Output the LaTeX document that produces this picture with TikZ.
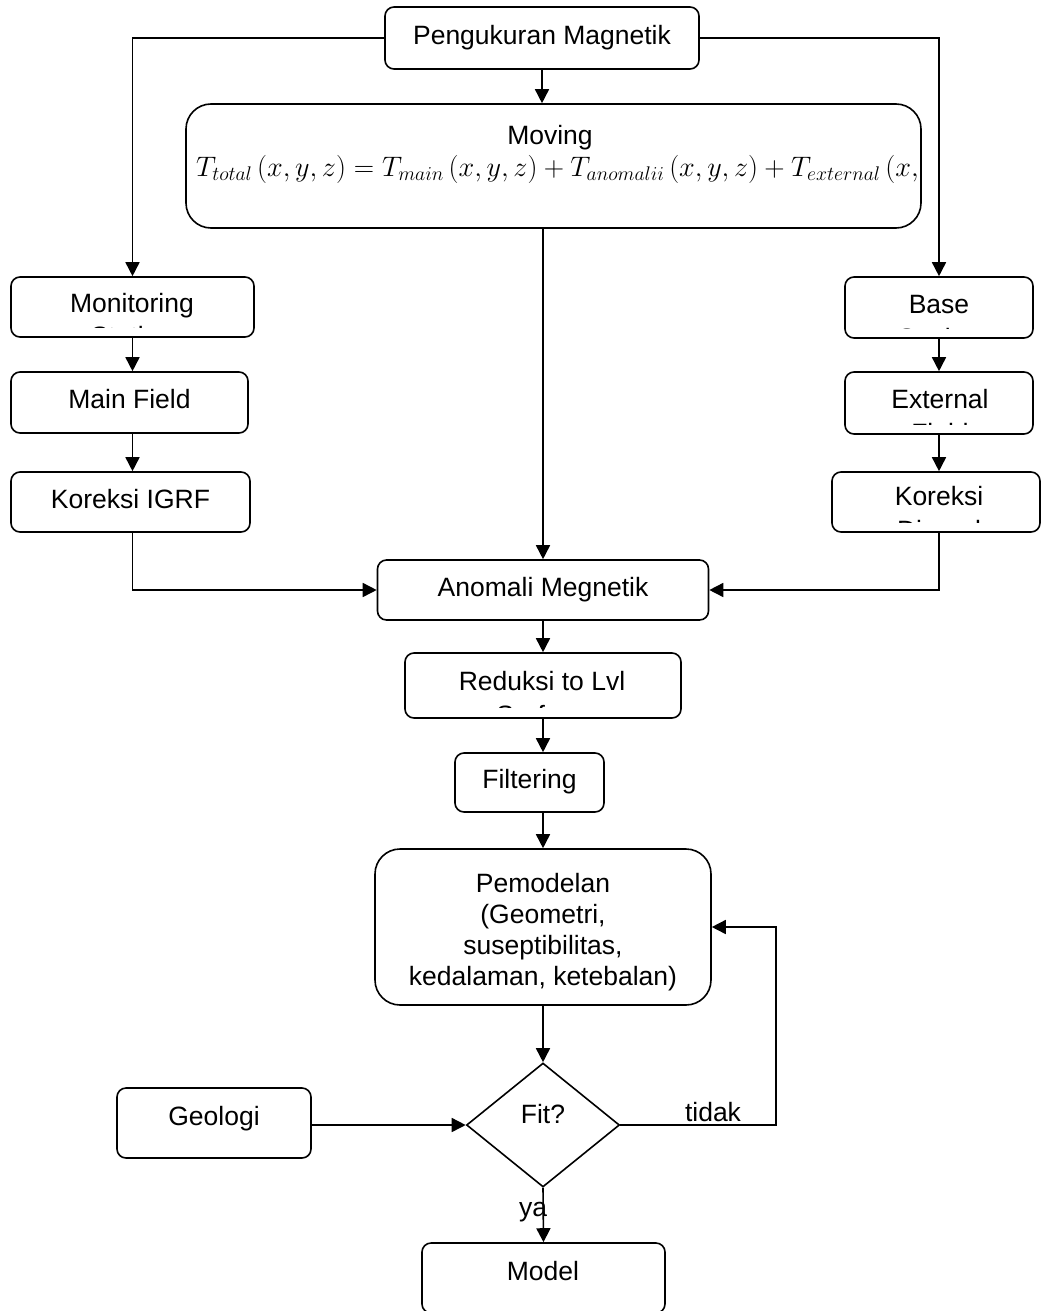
\RequirePackage{fix-cm}
\documentclass[tikz,border=0pt]{standalone}
\usepackage{fontspec}
\setmainfont{Liberation Sans}
\usetikzlibrary{arrows.meta,shapes.geometric}
\begin{document}
\begin{tikzpicture}[x=1pt,y=-1pt,
  box/.style={draw, line width=1.6pt, rounded corners=9pt, inner sep=0pt,
    font=\fontsize{26.5}{31}\selectfont},
  one/.style={text height=19pt, text depth=6.3pt},
  txt/.style={inner sep=0pt, font=\fontsize{26.5}{31}\selectfont},
  link/.style={line width=1.6pt},
  arr/.style={line width=1.6pt, -{Triangle[length=14pt,width=14pt]}}]
\clip (0,0) rectangle (1042,1311);
% boxes
\node[box, one, minimum width=314pt, minimum height=62pt] (peng) at (542,38) {Pengukuran Magnetik};
\node[box, rounded corners=25pt, minimum width=735pt, minimum height=124pt] (moving) at (553.5,166) {};
\node[txt, anchor=base] (movtxt) at (550,145) {Moving};
\begin{scope}
  \clip ([xshift=2pt,yshift=-2pt]moving.north west) rectangle ([xshift=-3pt,yshift=2pt]moving.south east);
  \node[txt, anchor=base west] (formula) at (196,176)
    {\fontsize{28.2}{34}\selectfont $T_{total}\,(x, y, z) = T_{main}\,(x, y, z) + T_{anomalii}\,(x, y, z) + T_{external}\,(x, y, z)$};
\end{scope}
\node[box, minimum width=243pt, minimum height=60pt] (mon) at (132.5,307) {};
\node[box, one, minimum width=237pt, minimum height=61pt] (main) at (129.5,402.5) {Main Field};
\node[box, one, minimum width=239pt, minimum height=60pt] (igrf) at (130.5,502) {Koreksi IGRF};
\node[box, minimum width=188pt, minimum height=61pt] (base) at (939,307.5) {};
\node[box, minimum width=188pt, minimum height=62pt] (ext) at (939,403) {};
\node[box, minimum width=208pt, minimum height=60pt] (diur) at (936,502) {};
\node[box, one, minimum width=331pt, minimum height=60pt] (anom) at (543,590) {Anomali Megnetik};
\node[box, minimum width=276pt, minimum height=65pt] (red) at (543,685.5) {};
\node[box, one, minimum width=149pt, minimum height=59pt] (filt) at (529.5,782.5) {Filtering};
\node[box, rounded corners=25pt, minimum width=336pt, minimum height=156pt] (pem) at (543,927) {};
\node[txt, align=center] (pemtxt) at (543,932)
  {Pemodelan\\(Geometri,\\suseptibilitas,\\kedalaman, ketebalan)};
\node[box, minimum width=194pt, minimum height=70pt] (geo) at (214,1123) {};
\node[txt, anchor=base] (geotxt) at (214,1125) {Geologi};
\node[draw, diamond, line width=1.6pt, inner sep=0pt, minimum width=153pt, minimum height=124pt] (fit) at (543,1125) {};
\node[txt, anchor=base] (fittxt) at (543,1123) {Fit?};
\node[box, minimum width=243pt, minimum height=70pt] (model) at (543.5,1278) {};
\node[txt, anchor=base] (modtxt) at (543,1280) {Model};
% first lines of the two-line boxes
\node[txt, anchor=base] (montxt) at (132,312) {Monitoring};
\node[txt, anchor=base] (basetxt) at (939,313) {Base};
\node[txt, anchor=base] (exttxt) at (940,408) {External};
\node[txt, anchor=base] (diurtxt) at (939,505) {Koreksi};
\node[txt, anchor=base] (redtxt) at (542,690) {Reduksi to Lvl};
% clipped second lines
\begin{scope}
  \clip ([yshift=10pt]mon.south west) rectangle (mon.north east);
  \node[txt, anchor=base] (montxt2) at (132,345) {Station};
\end{scope}
\begin{scope}
  \clip ([yshift=10pt]base.south west) rectangle (base.north east);
  \node[txt, anchor=base] (basetxt2) at (939,347) {Station};
\end{scope}
\begin{scope}
  \clip ([yshift=10pt]ext.south west) rectangle (ext.north east);
  \node[txt, anchor=base] (exttxt2) at (940,442) {Field};
\end{scope}
\begin{scope}
  \clip ([yshift=10pt]diur.south west) rectangle (diur.north east);
  \node[txt, anchor=base] (diurtxt2) at (939,539) {Diurnal};
\end{scope}
\begin{scope}
  \clip ([yshift=11pt]red.south west) rectangle (red.north east);
  \node[txt, anchor=base] (redtxt2) at (542,724) {Surface};
\end{scope}
% connectors
\coordinate (fb) at (776,1125);
\draw[arr] (peng.west) -| (mon.north);
\draw[arr] (peng.east) -| (base.north);
\draw[arr] (peng.south) -- (peng.south |- moving.north);
\draw[arr] (anom.north |- moving.south) -- (anom.north);
\draw[arr] (mon.south) -- (mon.south |- main.north);
\draw[arr] (mon.south |- main.south) -- (mon.south |- igrf.north);
\draw[arr] (mon.south |- igrf.south) |- (anom.west);
\draw[arr] (base.south) -- (base.south |- ext.north);
\draw[arr] (ext.south) -- (ext.south |- diur.north);
\draw[arr] (ext.south |- diur.south) |- (anom.east);
\draw[arr] (anom.south) -- (anom.south |- red.north);
\draw[arr] (red.south) -- (red.south |- filt.north);
\draw[arr] (red.south |- filt.south) -- (red.south |- pem.north);
\draw[arr] (pem.south) -- (fit.north);
\draw[arr] (geo.east |- fit.west) -- (fit.west);
\draw[arr] (fit.east) -- (fb) |- (pem.east);
\node[txt, anchor=base] (tidak) at (713,1121) {tidak};
\draw[arr] (fit.south) -- (model.north);
\node[txt, anchor=base] (ya) at (533,1216) {ya};
\end{tikzpicture}
\end{document}
